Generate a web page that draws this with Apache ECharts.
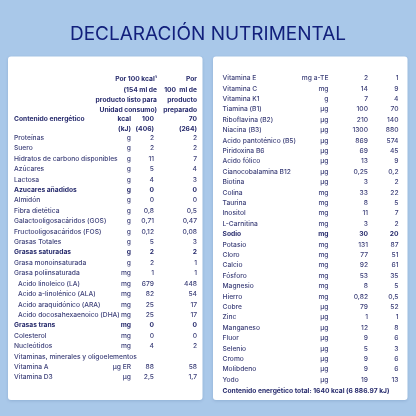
<!DOCTYPE html>
<html>
<head>
<meta charset="utf-8">
<script src="https://cdn.jsdelivr.net/npm/echarts@6/dist/echarts.min.js"></script>
<style>
  html, body { margin: 0; padding: 0; background: #a9c8e9; }
  #main { width: 416px; height: 416px; }
</style>
</head>
<body>
<div id="main"></div>
<script>
const leftNames = ['Proteínas', 'Suero', 'Hidratos de carbono disponibles', 'Azúcares', 'Lactosa', 'Azucares añadidos', 'Almidón', 'Fibra dietética', 'Galactooligosacáridos (GOS)', 'Fructooligosacáridos (FOS)', 'Grasas Totales', 'Grasas saturadas', 'Grasa monoinsaturada', 'Grasa poliinsaturada', 'Acido linoleico (LA)', 'Acido a-linolénico (ALA)', 'Acido araquidónico (ARA)', 'Acido docosahexaenoico (DHA)', 'Grasas trans', 'Colesterol', 'Nucleótidos', 'Vitaminas, minerales y oligoelementos', 'Vitamina A', 'Vitamina D3'];
const leftUnits = ['g', 'g', 'g', 'g', 'g', 'g', 'g', 'g', 'g', 'g', 'g', 'g', 'g', 'mg', 'mg', 'mg', 'mg', 'mg', 'mg', 'mg', 'mg', '', 'µg ER', 'µg'];
const leftPer100 = ['2', '2', '11', '5', '4', '0', '0', '0,8', '0,71', '0,12', '5', '2', '2', '1', '679', '82', '25', '25', '0', '0', '4', '', '88', '2,5'];
const leftPrepared = ['2', '2', '7', '4', '3', '0', '0', '0,5', '0,47', '0,08', '3', '2', '1', '1', '448', '54', '17', '17', '0', '0', '2', '', '58', '1,7'];
const leftBold = ['Azucares añadidos', 'Grasas saturadas', 'Grasas trans'];
const leftIndented = ['Acido linoleico (LA)', 'Acido a-linolénico (ALA)', 'Acido araquidónico (ARA)', 'Acido docosahexaenoico (DHA)'];

const headerPer100 = ['Por 100 kcal¹', '(154 ml de', 'producto listo para', 'Unidad consumo)'];
const headerPrepared = ['Por', '100  ml de', 'producto', 'preparado'];
const energyName = 'Contenido energético';
const energyUnits = ['kcal', '(kJ)'];
const energyPer100 = ['100', '(406)'];
const energyPrepared = ['70', '(264)'];

const rightNames = ['Vitamina E', 'Vitamina C', 'Vitamina K1', 'Tiamina (B1)', 'Riboflavina (B2)', 'Niacina (B3)', 'Acido pantoténico (B5)', 'Piridoxina B6', 'Acido fólico', 'Cianocobalamina B12', 'Biotina', 'Colina', 'Taurina', 'Inositol', 'L-Carnitina', 'Sodio', 'Potasio', 'Cloro', 'Calcio', 'Fósforo', 'Magnesio', 'Hierro', 'Cobre', 'Zinc', 'Manganeso', 'Fluor', 'Selenio', 'Cromo', 'Molibdeno', 'Yodo'];
const rightUnits = ['mg a-TE', 'mg', 'g', 'µg', 'µg', 'µg', 'µg', 'µg', 'µg', 'µg', 'µg', 'mg', 'mg', 'mg', 'mg', 'mg', 'mg', 'mg', 'mg', 'mg', 'mg', 'mg', 'µg', 'µg', 'µg', 'µg', 'µg', 'µg', 'µg', 'µg'];
const rightPer100 = ['2', '14', '7', '100', '210', '1300', '869', '69', '13', '0,25', '3', '33', '8', '11', '3', '30', '131', '77', '92', '53', '8', '0,82', '79', '1', '12', '9', '5', '9', '9', '19'];
const rightPrepared = ['1', '9', '4', '70', '140', '880', '574', '45', '9', '0,2', '2', '22', '5', '7', '2', '20', '87', '51', '61', '35', '5', '0,5', '52', '1', '8', '6', '3', '6', '6', '13'];
const rightBold = ['Sodio'];
const totalLine = 'Contenido energético total: 1640 kcal (6 886.97 kJ)';

const titleText = 'DECLARACIÓN NUTRIMENTAL';

const textColor = '#3d4079';
const boldColor = '#282c6d';
const fontFamily = 'Inter, "Noto Sans", sans-serif';
const fontSize = 6.7;

function cell(x, row, text, align, bold) {
  return { x, row, text, align, bold };
}

// column x are measured inside each card, so the axes run 0..card width
const leftCells = [];
headerPer100.forEach((t, i) => leftCells.push(cell(149, i - 5.65, t, 'right', true)));
headerPrepared.forEach((t, i) => leftCells.push(cell(189, i - 5.65, t, 'right', true)));
energyUnits.forEach((t, i) => {
  const row = i - 1.85;
  leftCells.push(cell(123, row, t, 'right', true));
  leftCells.push(cell(146, row, energyPer100[i], 'right', true));
  leftCells.push(cell(189, row, energyPrepared[i], 'right', true));
});
leftCells.push(cell(6, -1.85, energyName, 'left', true));
leftNames.forEach((name, i) => {
  const bold = leftBold.includes(name);
  leftCells.push(cell(leftIndented.includes(name) ? 10 : 6, i, name, 'left', bold));
  leftCells.push(cell(123, i, leftUnits[i], 'right', bold));
  leftCells.push(cell(146, i, leftPer100[i], 'right', bold));
  leftCells.push(cell(189, i, leftPrepared[i], 'right', bold));
});

const rightCells = [];
rightNames.forEach((name, i) => {
  const bold = rightBold.includes(name);
  rightCells.push(cell(9.5, i, name, 'left', bold));
  rightCells.push(cell(115.5, i, rightUnits[i], 'right', bold));
  rightCells.push(cell(155, i, rightPer100[i], 'right', bold));
  rightCells.push(cell(185.5, i, rightPrepared[i], 'right', bold));
});
rightCells.push(cell(9.5, 30.1, totalLine, 'left', true));

function tableSeries(cells, axisIndex) {
  const filled = cells.filter(c => c.text);
  return {
    type: 'custom',
    xAxisIndex: axisIndex,
    yAxisIndex: axisIndex,
    coordinateSystem: 'cartesian2d',
    silent: true,
    clip: false,
    data: filled.map(c => [c.x, c.row]),
    renderItem(params, api) {
      const c = filled[params.dataIndex];
      const p = api.coord([api.value(0), api.value(1)]);
      return {
        type: 'text',
        x: p[0],
        y: p[1],
        style: {
          text: c.text,
          textAlign: c.align,
          textVerticalAlign: 'middle',
          fill: c.bold ? boldColor : textColor,
          font: (c.bold ? '700 ' : '500 ') + fontSize + 'px ' + fontFamily
        }
      };
    }
  };
}

function hiddenX(max) {
  return { type: 'value', min: 0, max, show: false };
}

function hiddenY(gridIndex, min, max) {
  return { type: 'value', gridIndex, min, max, inverse: true, show: false };
}

function card(x) {
  return {
    type: 'rect',
    z: -1,
    shape: { x, y: 56.5, width: 194.5, height: 343.5, r: 3 },
    style: { fill: '#fff', shadowBlur: 3, shadowColor: 'rgba(40,70,120,0.18)', shadowOffsetY: 1 }
  };
}

const chart = echarts.init(document.getElementById('main'));
chart.setOption({
  animation: false,
  backgroundColor: '#a9c8e9',
  title: {
    text: titleText,
    left: 'center',
    top: 20,
    textStyle: { color: '#12207c', fontFamily, fontWeight: 400, fontSize: 19 }
  },
  graphic: [card(8), card(213)],
  grid: [
    { left: 8, width: 194, top: 75.5, height: 312.3, containLabel: false },
    { left: 213, width: 194, top: 78.3, height: 301.4, containLabel: false }
  ],
  xAxis: [hiddenX(194), Object.assign(hiddenX(194), { gridIndex: 1 })],
  yAxis: [hiddenY(0, -6, 24), hiddenY(1, 0, 29)],
  series: [tableSeries(leftCells, 0), tableSeries(rightCells, 1)]
});
</script>
</body>
</html>
